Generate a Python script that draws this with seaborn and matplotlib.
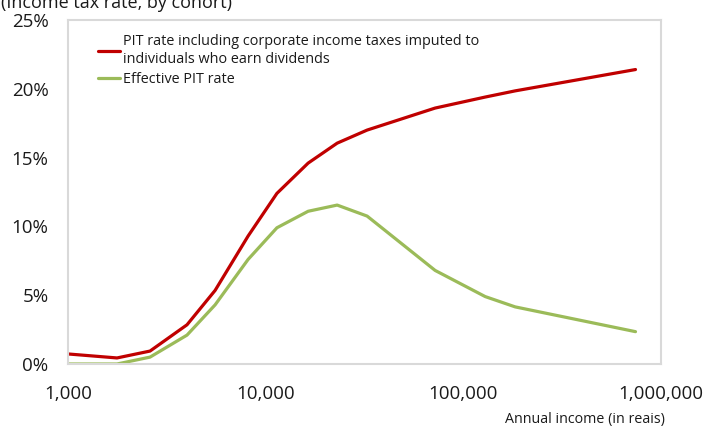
import pandas as pd
import seaborn as sns
import matplotlib.pyplot as plt
from matplotlib.ticker import FixedLocator, FuncFormatter

# income (reais) at each cohort point
income = [1000, 1770, 2600, 4000, 5550, 8150, 11400, 16400, 23000, 32600,
          72000, 129000, 183000, 743000]
# PIT rate incl. corporate taxes imputed to dividend earners (%)
pit_corp = [0.73, 0.44, 0.94, 2.85, 5.35, 9.3, 12.4, 14.6, 16.05, 17.0,
            18.6, 19.4, 19.85, 21.4]
# effective PIT rate (%)
pit_eff = [0.0, 0.0, 0.5, 2.1, 4.3, 7.6, 9.9, 11.1, 11.55, 10.75,
           6.8, 4.9, 4.15, 2.35]

lab_corp = 'PIT rate including corporate income taxes imputed to\nindividuals who earn dividends'
lab_eff = 'Effective PIT rate'

df = pd.concat([
    pd.DataFrame({'income': income, 'rate': pit_corp, 'series': lab_corp}),
    pd.DataFrame({'income': income, 'rate': pit_eff, 'series': lab_eff}),
])

sns.set_style('white')
plt.rcParams['font.family'] = ['Open Sans', 'DejaVu Sans']

fig = plt.figure(figsize=(7.04, 4.28), dpi=100)
ax = fig.add_axes([68 / 704, 1 - 364 / 428, (661 - 68) / 704, (364 - 20) / 428])

sns.lineplot(data=df, x='income', y='rate', hue='series', ax=ax,
             palette={lab_corp: '#C00000', lab_eff: '#9BBB59'},
             linewidth=2.3, sort=False)

ax.set_xscale('log')
ax.set_xlim(1000, 1e6)
ax.set_ylim(0, 25)
ax.xaxis.set_major_locator(FixedLocator([1e3, 1e4, 1e5, 1e6]))
ax.xaxis.set_minor_locator(FixedLocator([]))
ax.xaxis.set_major_formatter(FuncFormatter(lambda v, p: f'{v:,.0f}'))
ax.set_yticks([0, 5, 10, 15, 20, 25])
ax.yaxis.set_major_formatter(FuncFormatter(lambda v, p: f'{v:.0f}%'))
ax.tick_params(axis='both', direction='in', length=5, width=1, color='#BFBFBF',
               labelsize=13.5, labelcolor='#1a1a1a')
ax.tick_params(axis='x', pad=15)
ax.tick_params(axis='y', pad=14)
for s in ax.spines.values():
    s.set_color('#D9D9D9')
    s.set_linewidth(1.5)

ax.set_xlabel('')
ax.set_ylabel('')
fig.text(665 / 704, 1 - 419 / 428, 'Annual income (in reais)', ha='right', va='center',
         fontsize=10.3, color='#1a1a1a')
# the reference crops this heading at the top edge
fig.text(1 / 704, 1 - 3 / 428, '(Income tax rate, by cohort)', ha='left', va='center',
         fontsize=13, color='#1a1a1a')

leg = ax.legend(loc='upper left', bbox_to_anchor=(0.041, 0.975), frameon=False,
                fontsize=10.4, handlelength=1.55, handletextpad=0.15, labelspacing=0.4,
                borderaxespad=0)
for t in leg.get_texts():
    t.set_color('#1a1a1a')

fig.savefig('out.png', dpi=100)
